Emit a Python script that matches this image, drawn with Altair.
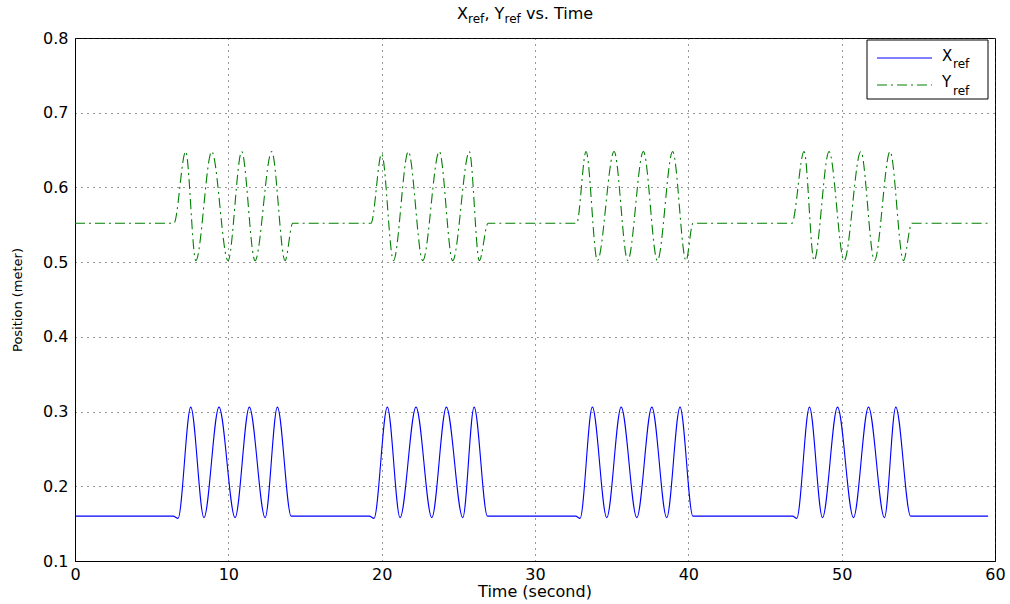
import altair as alt
import pandas as pd

# ---- data ----
t_x = [0, 6.4, 6.72, 7.55, 8.41, 9.39, 10.44, 11.37, 12.4, 13.2, 14.1,
       19.2, 19.5, 20.37, 21.2, 22.24, 23.27, 24.22, 25.29, 26.03, 26.9,
       32.65, 32.94, 33.74, 34.68, 35.62, 36.64, 37.62, 38.59, 39.46, 40.3,
       46.8, 47.07, 47.9, 48.75, 49.73, 50.77, 51.75, 52.79, 53.53, 54.5,
       59.55]
x_ref = [0.16, 0.16, 0.157, 0.306, 0.158, 0.306, 0.158, 0.306, 0.158, 0.306, 0.16,
         0.16, 0.157, 0.306, 0.158, 0.306, 0.158, 0.306, 0.158, 0.306, 0.16,
         0.16, 0.157, 0.306, 0.158, 0.306, 0.158, 0.306, 0.158, 0.306, 0.16,
         0.16, 0.157, 0.306, 0.158, 0.306, 0.158, 0.306, 0.158, 0.306, 0.16,
         0.16]

t_y = [0, 6.45, 7.22, 7.88, 8.92, 9.98, 10.87, 11.74, 12.83, 13.7, 14.2,
       19.3, 20.0, 20.77, 21.74, 22.68, 23.76, 24.63, 25.72, 26.37, 26.94,
       32.72, 33.33, 34.07, 35.16, 36.05, 37.07, 37.98, 38.98, 39.85, 40.3,
       46.75, 47.55, 48.2, 49.18, 50.16, 51.25, 52.14, 53.16, 54.03, 54.57,
       59.55]
y_ref = [0.552, 0.552, 0.648, 0.502, 0.648, 0.502, 0.648, 0.502, 0.648, 0.502, 0.552,
         0.552, 0.645, 0.502, 0.648, 0.502, 0.648, 0.502, 0.648, 0.502, 0.552,
         0.552, 0.648, 0.502, 0.648, 0.502, 0.648, 0.502, 0.648, 0.502, 0.552,
         0.552, 0.648, 0.502, 0.648, 0.502, 0.648, 0.502, 0.648, 0.502, 0.552,
         0.552]

x_ticks = [0, 10, 20, 30, 40, 50, 60]
y_ticks = [0.1, 0.2, 0.3, 0.4, 0.5, 0.6, 0.7, 0.8]

FONT = "DejaVu Sans"

df_x = pd.DataFrame({"t": t_x, "v": x_ref})
df_y = pd.DataFrame({"t": t_y, "v": y_ref})
one = pd.DataFrame({"a": [0]})

xscale = alt.Scale(domain=[0, 60], nice=False, zero=False)
yscale = alt.Scale(domain=[0.1, 0.8], nice=False, zero=False)

xaxis = alt.Axis(values=x_ticks, title=None, grid=True, gridDash=[1, 5],
                 gridColor="#333333", ticks=False, labelFont=FONT,
                 labelFontSize=16, labelColor="black", labelPadding=5,
                 domainColor="black", labelFlush=False)
yaxis = alt.Axis(values=y_ticks, format=".1f", title=None, grid=True,
                 gridDash=[1, 5], gridColor="#333333", ticks=False,
                 labelFont=FONT, labelFontSize=16, labelColor="black",
                 labelPadding=7, domainColor="black", labelFlush=False)

line_x = alt.Chart(df_x).mark_line(color="#0000ff", strokeWidth=1.1,
                                    interpolate="monotone").encode(
    x=alt.X("t:Q", scale=xscale, axis=xaxis),
    y=alt.Y("v:Q", scale=yscale, axis=yaxis),
)
line_y = alt.Chart(df_y).mark_line(color="#008000", strokeWidth=1.1,
                                    strokeDash=[10, 4, 2, 4],
                                    interpolate="monotone").encode(
    x=alt.X("t:Q", scale=xscale),
    y=alt.Y("v:Q", scale=yscale),
)


def txt(s, x, y, size, **kw):
    return alt.Chart(one).mark_text(text=s, font=FONT, fontSize=size,
                                    color="black", **kw).encode(
        x=alt.value(x), y=alt.value(y))


# title with subscripts
title_parts = [
    txt("X", 382, -19, 16, align="left", baseline="alphabetic"),
    txt("ref", 393, -15, 12, align="left", baseline="alphabetic"),
    txt(",", 409.5, -19, 16, align="left", baseline="alphabetic"),
    txt("Y", 419.5, -19, 16, align="left", baseline="alphabetic"),
    txt("ref", 429.5, -15, 12, align="left", baseline="alphabetic"),
    txt("vs. Time", 451, -19, 16, align="left", baseline="alphabetic"),
]

xtitle = txt("Time (second)", 460, 554, 16, align="center", baseline="middle")
ytitle = txt("Position (meter)", -57, 262, 13, align="center",
             baseline="middle", angle=270)

# legend
leg_box = alt.Chart(one).mark_rect(fill="white", stroke="black",
                                   strokeWidth=1).encode(
    x=alt.value(792), x2=alt.value(913), y=alt.value(2), y2=alt.value(61))
leg_blue = alt.Chart(one).mark_rule(color="#0000ff", strokeWidth=1.1).encode(
    x=alt.value(802), x2=alt.value(857), y=alt.value(20))
leg_green = alt.Chart(one).mark_rule(color="#008000", strokeWidth=1.1,
                                     strokeDash=[10, 4, 2, 4]).encode(
    x=alt.value(802), x2=alt.value(857), y=alt.value(47))
leg_text = [
    txt("X", 867, 23, 15, align="left", baseline="alphabetic"),
    txt("ref", 878, 30, 12, align="left", baseline="alphabetic"),
    txt("Y", 867, 49, 15, align="left", baseline="alphabetic"),
    txt("ref", 878, 57, 12, align="left", baseline="alphabetic"),
]

chart = alt.layer(line_x, line_y, *title_parts, xtitle, ytitle,
                  leg_box, leg_blue, leg_green, *leg_text).properties(
    width=920, height=523,
    autosize=alt.AutoSizeParams(type="none"),
    padding={"left": 75, "top": 38, "right": 15, "bottom": 43},
    background="white",
).configure_view(stroke="black", strokeWidth=1)

chart.save("out.html", embed_options={"renderer": "svg", "actions": False})
